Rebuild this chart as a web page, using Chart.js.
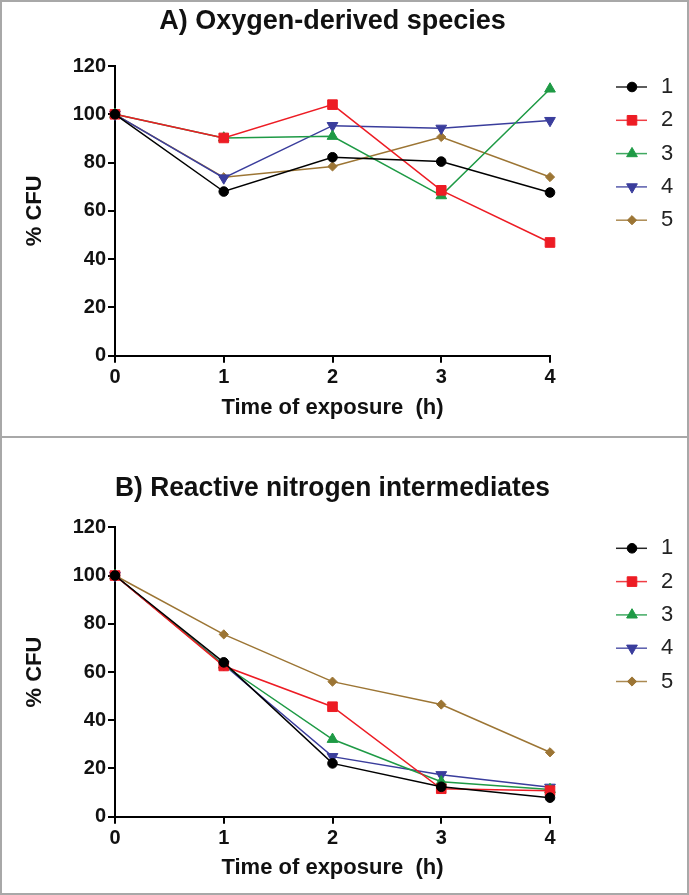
<!DOCTYPE html>
<html><head><meta charset="utf-8">
<script src="https://cdn.jsdelivr.net/npm/chart.js@4.4.1/dist/chart.umd.min.js"></script>
<style>
html,body{margin:0;padding:0;background:#fff;}
#wrap{position:relative;width:689px;height:895px;overflow:hidden;background:#fff;}
canvas{position:absolute;left:0;}
.frame{position:absolute;background:#a8a8a8;}
</style></head><body>
<div id="wrap">
<canvas id="cA" width="689" height="437" style="top:0px"></canvas>
<canvas id="cB" width="689" height="458" style="top:437px"></canvas>
<div class="frame" style="left:0;top:0;width:689px;height:2px"></div>
<div class="frame" style="left:0;top:893px;width:689px;height:2px"></div>
<div class="frame" style="left:0;top:0;width:2px;height:895px"></div>
<div class="frame" style="left:687px;top:0;width:2px;height:895px"></div>
<div class="frame" style="left:0;top:436px;width:689px;height:2px"></div>
</div>
<script>
// ---- data ----
const times = [0, 1, 2, 3, 4];
const seriesNames = ['1', '2', '3', '4', '5'];
const yTicks = [0, 20, 40, 60, 80, 100, 120];

const titleA = 'A) Oxygen-derived species';
const titleB = 'B) Reactive nitrogen intermediates';
const xTitle = 'Time of exposure  (h)';
const yTitle = '% CFU';

const oxygen1 = [100, 68.0, 82.2, 80.4, 67.6];
const oxygen2 = [100, 90.2, 104.0, 68.5, 46.9];
const oxygen3 = [100, 90.2, 90.9, 66.3, 110.5];
const oxygen4 = [100, 73.6, 95.3, 94.2, 97.4];
const oxygen5 = [100, 73.9, 78.4, 90.6, 74.0];

const nitrogen1 = [100, 64.0, 22.1, 12.4, 7.9];
const nitrogen2 = [100, 62.5, 45.6, 11.6, 10.8];
const nitrogen3 = [100, 62.9, 32.1, 14.5, 11.3];
const nitrogen4 = [100, 63.0, 24.9, 17.4, 12.2];
const nitrogen5 = [100, 75.6, 56.0, 46.5, 26.7];

// ---- styles ----
const FONT = "'Liberation Sans', Arial, Helvetica, sans-serif";
const seriesStyles = [
  {color: '#000000', pointStyle: 'circle',   radius: 4.8, rotation: 0},
  {color: '#ed1c24', pointStyle: 'rect',     radius: 6.8, rotation: 0},
  {color: '#1e9a45', pointStyle: 'triangle', radius: 6.2, rotation: 0},
  {color: '#3a3d9c', pointStyle: 'triangle', radius: 6.2, rotation: 180},
  {color: '#9c7534', pointStyle: 'rectRot',  radius: 4.6, rotation: 0}
];

function makeDatasets(seriesList) {
  return seriesList.map((vals, i) => {
    const s = seriesStyles[i];
    return {
      label: seriesNames[i],
      data: times.map((t, k) => ({x: t, y: vals[k]})),
      borderColor: s.color,
      backgroundColor: s.color,
      borderWidth: 1.5,
      tension: 0,
      pointStyle: s.pointStyle,
      pointRotation: s.rotation,
      pointRadius: s.radius,
      pointHoverRadius: s.radius,
      pointBackgroundColor: s.color,
      pointBorderColor: s.color,
      pointBorderWidth: 1,
      clip: false
    };
  });
}

const lineLegend = {
  id: 'lineLegend',
  afterDraw(chart, args, opts) {
    const ctx = chart.ctx;
    const top = chart.chartArea.top;
    chart.data.datasets.forEach((ds, i) => {
      const y = top + opts.firstOffset + i * opts.spacing;
      ctx.save();
      ctx.strokeStyle = ds.borderColor;
      ctx.globalAlpha = 0.85;
      ctx.lineWidth = 1.5;
      ctx.beginPath();
      ctx.moveTo(opts.lineStart, y);
      ctx.lineTo(opts.lineEnd, y);
      ctx.stroke();
      ctx.globalAlpha = 1;
      ctx.fillStyle = ds.pointBackgroundColor;
      ctx.strokeStyle = ds.pointBorderColor;
      ctx.lineWidth = 1;
      Chart.helpers.drawPoint(ctx, {
        pointStyle: ds.pointStyle, rotation: ds.pointRotation,
        radius: ds.pointRadius, borderWidth: 1
      }, opts.markerX, y);
      ctx.fillStyle = '#222';
      ctx.font = '22px ' + FONT;
      ctx.textBaseline = 'middle';
      ctx.textAlign = 'left';
      ctx.fillText(ds.label, opts.textX, y);
      ctx.restore();
    });
  }
};

function makeConfig(seriesList, cfg) {
  return {
    type: 'line',
    data: {datasets: makeDatasets(seriesList)},
    plugins: [lineLegend],
    options: {
      responsive: false, animation: false, devicePixelRatio: 1,
      layout: {padding: {left: 0, right: 139, top: 0, bottom: 0}},
      plugins: {
        legend: {display: false},
        tooltip: {enabled: false},
        title: {
          display: true, text: cfg.title, fullSize: false, color: '#111',
          font: {family: FONT, size: 27, weight: 'bold'},
          padding: {top: cfg.titleTop, bottom: cfg.titleBottom}
        },
        lineLegend: {firstOffset: 21, spacing: 33.3, lineStart: 616, lineEnd: 647, markerX: 632, textX: 661}
      },
      scales: {
        x: {
          type: 'linear', min: 0, max: 4,
          ticks: {stepSize: 1, color: '#111', padding: 3, font: {family: FONT, size: 20, weight: 'bold'}},
          grid: {drawOnChartArea: false, drawTicks: true, tickLength: 7, lineWidth: 2, color: '#000'},
          border: {display: true, color: '#000', width: 2},
          title: {display: true, text: xTitle, color: '#111', font: {family: FONT, size: 22, weight: 'bold'}, padding: {top: 0, bottom: cfg.xTitleBottom}},
          afterFit(s) { s.height = cfg.xH; }
        },
        y: {
          type: 'linear', min: yTicks[0], max: yTicks[yTicks.length - 1],
          afterBuildTicks(s) { s.ticks = yTicks.map(v => ({value: v})); },
          ticks: {color: '#111', padding: 2, font: {family: FONT, size: 20, weight: 'bold'}},
          grid: {drawOnChartArea: false, drawTicks: true, tickLength: 7, lineWidth: 2, color: '#000'},
          border: {display: true, color: '#000', width: 2},
          title: {display: true, text: yTitle, color: '#111', font: {family: FONT, size: 22, weight: 'bold'}, padding: {top: 22, bottom: 0}},
          afterFit(s) { s.width = 115; }
        }
      }
    }
  };
}

new Chart(document.getElementById('cA'), makeConfig(
  [oxygen1, oxygen2, oxygen3, oxygen4, oxygen5],
  {title: titleA, titleTop: 5.5, titleBottom: 28.1, xH: 81.3, xTitleBottom: 16}
));
new Chart(document.getElementById('cB'), makeConfig(
  [nitrogen1, nitrogen2, nitrogen3, nitrogen4, nitrogen5],
  {title: titleB, titleTop: 35, titleBottom: 22.9, xH: 78.3, xTitleBottom: 14}
));
</script>
</body></html>
